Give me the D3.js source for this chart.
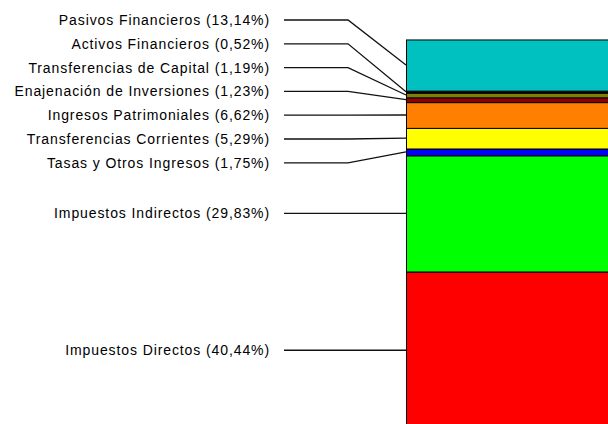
<!DOCTYPE html>
<html>
<head>
<meta charset="utf-8">
<script src="https://cdn.jsdelivr.net/npm/d3@7"></script>
<style>
	body { margin: 0; background: #fff; }
	svg { display: block; }
</style>
</head>
<body>
<svg id="svg_main" width="608" height="424"></svg>
<script>
// bottom to top, as stacked in the column
var names = ["Impuestos Directos", "Impuestos Indirectos", "Tasas y Otros Ingresos",
	"Transferencias Corrientes", "Ingresos Patrimoniales", "Enajenación de Inversiones",
	"Transferencias de Capital", "Activos Financieros", "Pasivos Financieros"];
var shares = [40.44, 29.83, 1.75, 5.29, 6.62, 1.23, 1.19, 0.52, 13.14];
var colors = ["#ff0000", "#00ff00", "#0000ff", "#ffff00", "#ff8000",
	"#900000", "#808000", "#000000", "#00c0c0"];

var barLeft = 406, barRight = 640,
	labelRight = 270, lineStart = 284, elbow = 348,
	labelTop = 20, labelGap = 23.8, stacked = 7;

function fmt(v) { return v.toFixed(2).replace(".", ","); }

function main() {
	var svg = d3.select("#svg_main");

	var y = d3.scaleLinear().domain([0, 100]).range([429, 39.5]);

	var data = [], acc = 0;
	names.forEach((n, i) => {
		data.push({ name: n, value: shares[i], color: colors[i], y0: acc, y1: acc + shares[i] });
		acc += shares[i];
	});

	// labels: the small segments near the top are stacked, the big ones sit at their middle
	var top = data.slice().reverse();
	top.forEach((d, i) => {
		d.mid = (y(d.y0) + y(d.y1)) / 2;
		d.ly = i < stacked ? labelTop + i * labelGap : d.mid;
	});

	svg.append("g")
		.attr("class", "bars")
		.selectAll("rect")
		.data(data)
		.enter().append("rect")
		.attr("x", barLeft + 0.5)
		.attr("width", barRight - barLeft)
		.attr("y", d => y(d.y1) + 0.5)
		.attr("height", d => y(d.y0) - y(d.y1))
		.attr("fill", d => d.color)
		.attr("stroke", "#000")
		.attr("stroke-width", 1);

	var leaders = svg.append("g").attr("class", "leaders");
	leaders.selectAll("path")
		.data(top)
		.enter().append("path")
		.attr("d", d => `M${lineStart},${d.ly}L${elbow},${d.ly}L${barLeft},${d.mid}`)
		.attr("fill", "none")
		.attr("stroke", "#111")
		.attr("stroke-width", 1.3);

	svg.append("g")
		.attr("class", "labels")
		.selectAll("text")
		.data(top)
		.enter().append("text")
		.attr("x", labelRight)
		.attr("y", d => d.ly)
		.attr("dy", "0.35em")
		.attr("text-anchor", "end")
		.attr("font-family", "Liberation Sans, Arial, sans-serif")
		.attr("font-size", "14px")
		.attr("letter-spacing", "0.9px")
		.attr("fill", "#000")
		.text(d => `${d.name} (${fmt(d.value)}%)`);
}

main();
</script>
</body>
</html>
